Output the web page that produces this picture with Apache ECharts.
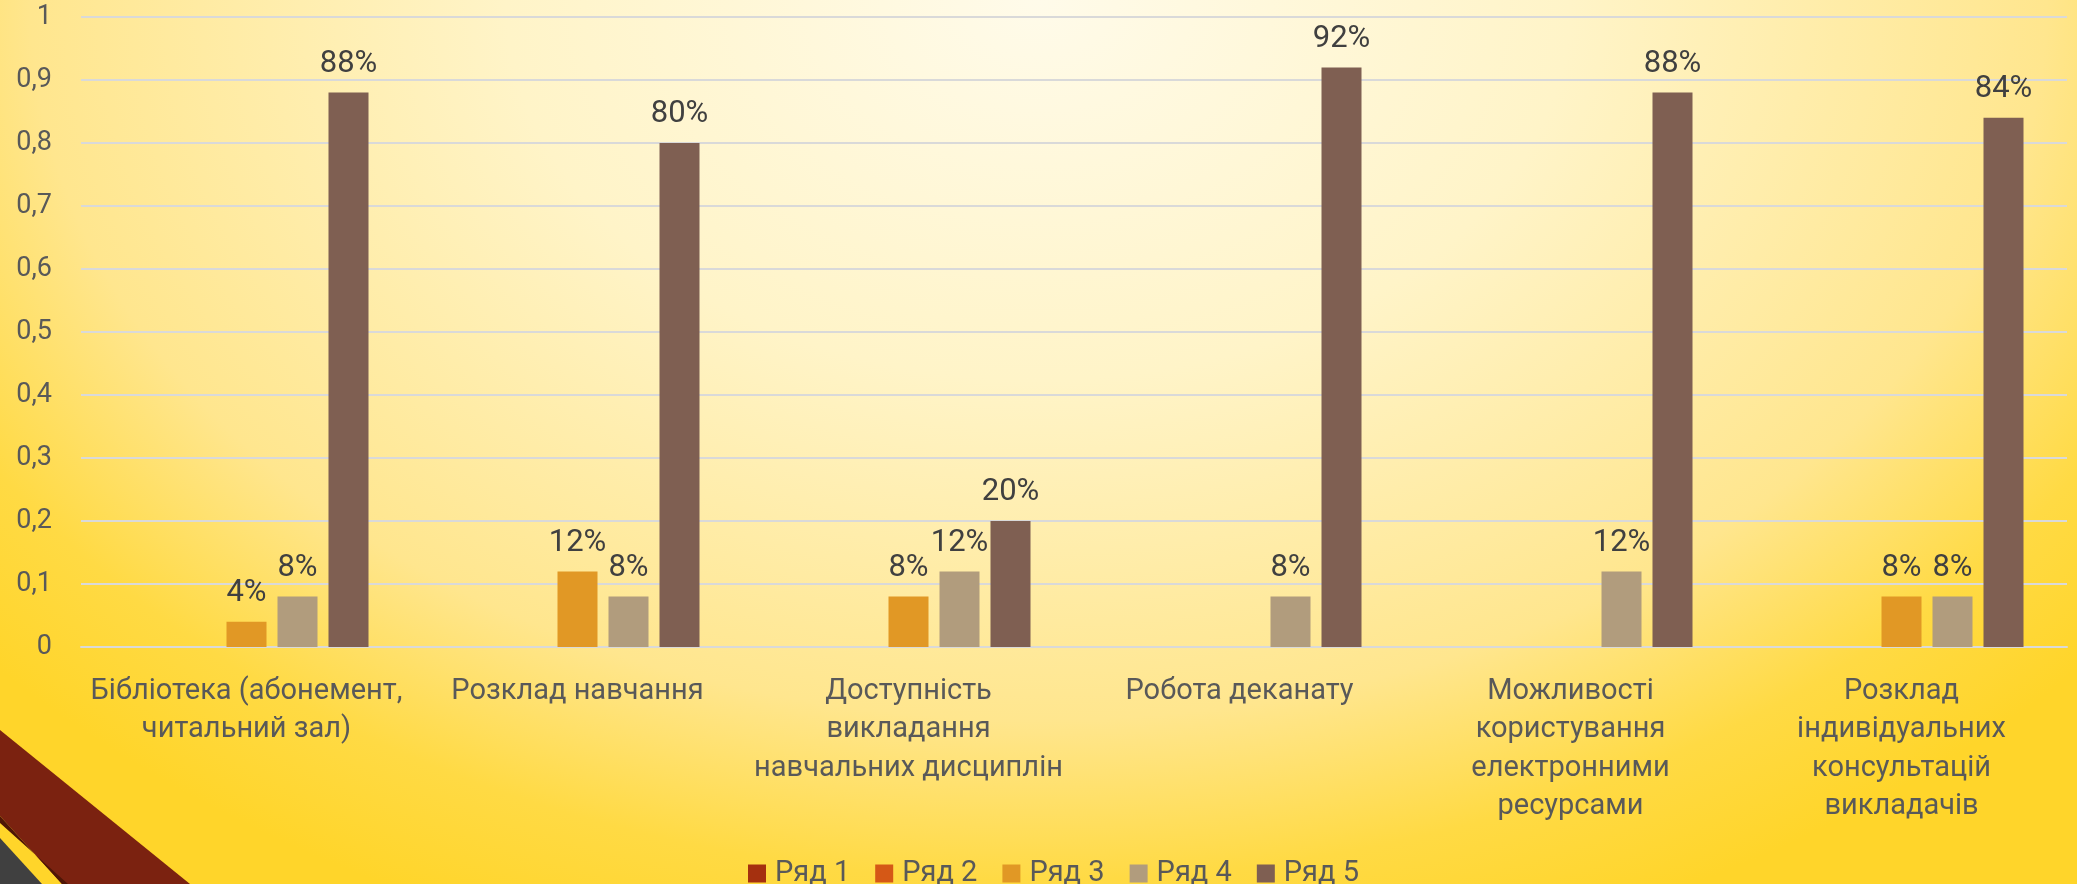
<!DOCTYPE html>
<html>
<head>
<meta charset="utf-8">
<title>chart</title>
<script src="https://cdn.jsdelivr.net/npm/echarts@6/dist/echarts.min.js"></script>
<style>
  html, body {
    margin: 0;
    padding: 0;
    width: 2077px;
    height: 884px;
    overflow: hidden;
  }
  body {
    background: radial-gradient(1400px 1000px at 50% 0%, #fffbea 0%, #fff4c8 38%, #ffe68e 72%, #ffda44 88%, #ffd52a 100%);
  }
  #main {
    width: 2077px;
    height: 884px;
  }
</style>
</head>
<body>
<div id="main"></div>
<script>
// категорії та ряди
const categories = [
  "Бібліотека (абонемент,\nчитальний зал)",
  "Розклад навчання",
  "Доступність\nвикладання\nнавчальних дисциплін",
  "Робота деканату",
  "Можливості\nкористування\nелектронними\nресурсами",
  "Розклад\nіндивідуальних\nконсультацій\nвикладачів"
];
const seriesNames = ["Ряд 1", "Ряд 2", "Ряд 3", "Ряд 4", "Ряд 5"];
const row1 = [null, null, null, null, null, null];
const row2 = [null, null, null, null, null, null];
const row3 = [0.04, 0.12, 0.08, null, null, 0.08];
const row4 = [0.08, 0.08, 0.12, 0.08, 0.12, 0.08];
const row5 = [0.88, 0.80, 0.20, 0.92, 0.88, 0.84];
const yTickLabels = ["0", "0,1", "0,2", "0,3", "0,4", "0,5", "0,6", "0,7", "0,8", "0,9", "1"];

const colors = ["#a5300f", "#d55816", "#e19825", "#b19c7d", "#7f5f52"];
const font = "Roboto, 'Noto Sans', sans-serif";

const rows = [row1, row2, row3, row4, row5];

const myChart = echarts.init(document.getElementById("main"));

const option = {
  backgroundColor: "transparent",
  color: colors,
  textStyle: { fontFamily: font },
  grid: {
    left: 81,
    right: 10,
    top: 17,
    bottom: 237
  },
  legend: {
    data: seriesNames,
    left: 743,
    top: 854,
    itemWidth: 18,
    itemHeight: 18,
    itemGap: 25,
    icon: "rect",
    textStyle: {
      fontSize: 29,
      color: "#595959",
      fontFamily: font,
      padding: [0, 0, 0, 4]
    }
  },
  xAxis: {
    type: "category",
    data: categories,
    axisTick: { show: false },
    axisLine: { lineStyle: { color: "#d9d9d9", width: 2 } },
    axisLabel: {
      interval: 0,
      margin: 25,
      fontSize: 29,
      lineHeight: 38.5,
      color: "#595959",
      fontFamily: font
    }
  },
  yAxis: {
    type: "value",
    min: 0,
    max: 1,
    interval: 0.1,
    axisLine: { show: false },
    axisTick: { show: false },
    splitLine: { lineStyle: { color: "#d9d9d9", width: 2 } },
    axisLabel: {
      margin: 29,
      fontSize: 27,
      color: "#595959",
      fontFamily: font,
      formatter: function (v) {
        return yTickLabels[Math.round(v * 10)];
      }
    }
  },
  series: rows.map(function (d, i) {
    return {
      name: seriesNames[i],
      type: "bar",
      data: d,
      barWidth: 40,
      barGap: "27.5%",
      label: {
        show: true,
        position: "top",
        distance: 13,
        fontSize: 31,
        color: "#404040",
        fontFamily: font,
        formatter: function (p) {
          return Math.round(p.value * 100) + "%";
        }
      }
    };
  }),
  graphic: [
    {
      type: "polygon",
      shape: { points: [[0, 730], [190, 884], [62, 884], [0, 816]] },
      style: { fill: "#7b2210" }
    },
    {
      type: "polygon",
      shape: { points: [[0, 816], [62, 884], [68, 884], [0, 823]] },
      style: { fill: "#4e1606" }
    },
    {
      type: "polygon",
      shape: { points: [[0, 838], [42, 884], [0, 884]] },
      style: { fill: "#404040" }
    }
  ]
};

myChart.setOption(option);
</script>
</body>
</html>
